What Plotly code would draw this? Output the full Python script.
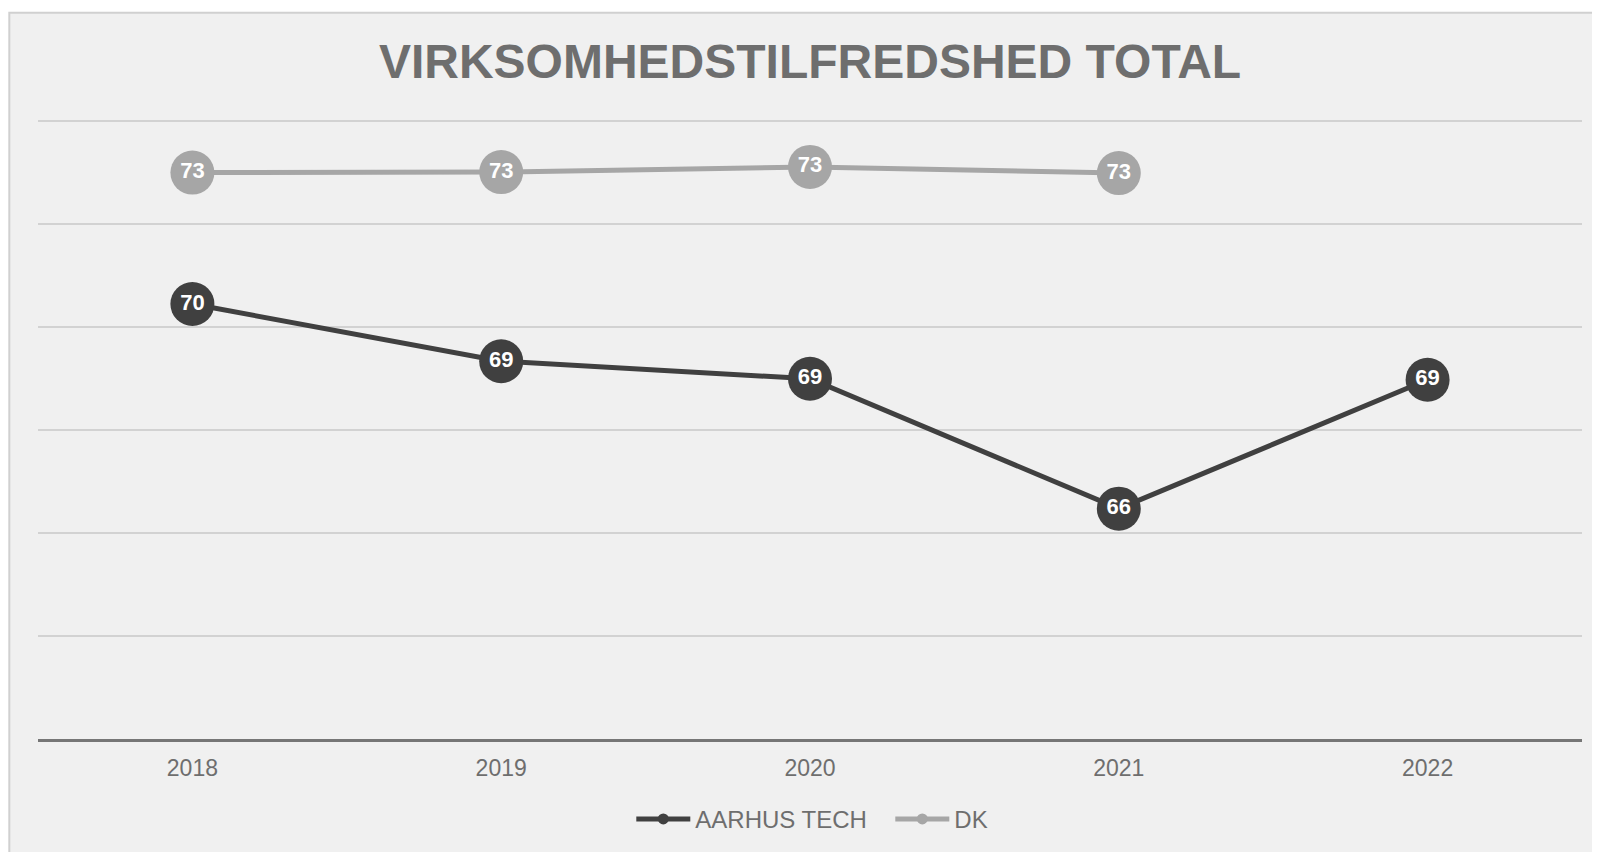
import plotly.graph_objects as go

# data
years = ["2018", "2019", "2020", "2021", "2022"]
aarhus_tech = [70.44, 69.33, 68.99, 66.47, 68.97]
dk = [72.99, 73.00, 73.10, 72.98, None]

font_family = "Liberation Sans, Arial, sans-serif"
grey_text = "#6e6e6e"
dark = "#404040"
light = "#a6a6a6"

# siden har 8px body-margin, så figuren gøres 8px mindre
W, H = 1592, 844
L, R, T, B = 29.7, 18.3, 110.5, 112.5
plot_w = W - L - R
plot_h = H - T - B

fig = go.Figure()

# linjer med markører og værdier i cirklerne
for name, values, color in [("AARHUS TECH", aarhus_tech, dark), ("DK", dk, light)]:
    fig.add_trace(go.Scatter(
        x=years, y=values, name=name, mode="lines+markers+text",
        line=dict(color=color, width=5),
        marker=dict(color=color, size=44, line=dict(width=0)),
        texttemplate="%{y:.0f}", textposition="middle center",
        textfont=dict(family=font_family, size=22, color="white", weight="bold"),
        showlegend=False, cliponaxis=False, hoverinfo="x+y"
    ))

# legend-poster
for name, color in [("AARHUS TECH", dark), ("DK", light)]:
    fig.add_trace(go.Scatter(
        x=[None], y=[None], name=name, mode="lines+markers",
        line=dict(color=color, width=5),
        marker=dict(color=color, size=11)
    ))

fig.update_layout(
    width=W, height=H,
    margin=dict(l=L, r=R, t=T, b=B, pad=0, autoexpand=False),
    paper_bgcolor="white",
    plot_bgcolor="rgba(0,0,0,0)",
    title=dict(
        text="<b>VIRKSOMHEDSTILFREDSHED TOTAL</b>",
        font=dict(family=font_family, size=48, color=grey_text),
        x=802 / W, xanchor="center", y=1 - 53 / H, yanchor="middle", yref="container"
    ),
    legend=dict(
        orientation="h", x=(641 - 8 - L - 10) / plot_w, xanchor="left",
        y=(H - B - 812) / plot_h, yanchor="middle",
        font=dict(family=font_family, size=24, color=grey_text),
        bgcolor="rgba(0,0,0,0)", itemwidth=54, traceorder="normal",
        entrywidth=190, entrywidthmode="pixels"
    ),
    xaxis=dict(
        type="category", range=[-0.5, 4.5],
        showgrid=False, zeroline=False,
        showline=True, linecolor="#767676", linewidth=3,
        ticks="outside", ticklen=6, tickcolor="rgba(0,0,0,0)",
        tickfont=dict(family=font_family, size=23, color=grey_text)
    ),
    yaxis=dict(
        range=[62, 74.03], dtick=2, tick0=62,
        showgrid=True, gridcolor="#d2d2d2", gridwidth=1.5,
        zeroline=False, showticklabels=False, showline=False
    ),
    shapes=[dict(
        type="rect", xref="paper", yref="paper", layer="below",
        x0=(1 - L) / plot_w, x1=1.1, y0=-0.5, y1=(H - B - 4) / plot_h,
        fillcolor="#f0f0f0", line=dict(color="#d0d0d0", width=2)
    )],
    hovermode="closest"
)

fig.write_html("out.html")
